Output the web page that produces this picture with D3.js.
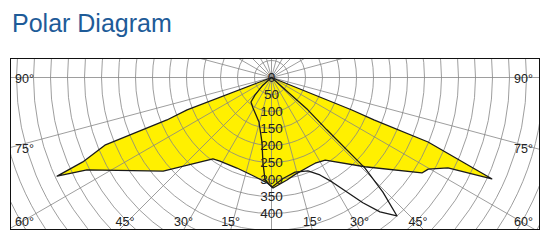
<!DOCTYPE html>
<html>
<head>
<meta charset="utf-8">
<script src="https://cdn.jsdelivr.net/npm/d3@7"></script>
<style>
  body { margin: 0; background: #fff; }
  text { font-family: "Liberation Sans", Arial, sans-serif; }
</style>
</head>
<body>
<div id="chart"></div>
<script>
// polar data: angle in degrees from nadir (negative = left), value in cd
const fillAngles = [-90, -69.0, -67.9, -67.9, -65.9, -65.3, -63.4, -49.2, -35.7, -31.7, -20.9, -10.6, -2.4, 0.8, 8.6, 14, 23.5, 27, 33, 46.3, 57.6, 59.7, 62.9, 65.3, 67.6, 67.5, 68, 90]
const fillValues = [0, 266, 332, 529, 608, 694, 607, 421, 295, 289, 285, 294, 310, 325, 305, 293, 284, 283, 290, 380, 524, 534, 583, 713, 498, 326, 255, 0]

const lineAngles = [-48.6, -48.6, -43.3, -39.9, -31.2, -15.7, -8.4, -5.7, -3.6, 0.3, 6.5, 14, 21.3, 26.4, 30.1, 36.1, 38.9, 42.2, 44.2, 45.9, 46.6, 48.3, 48]
const lineValues = [0, 34, 71, 94, 105, 136, 192, 253, 302, 322, 299, 287, 295, 320, 355, 456, 508, 549, 470, 382, 224, 143, 0]

const ringLabels = [0, 50, 100, 150, 200, 250, 300, 350, 400]
const angleLabels = [15, 30, 45, 60, 75, 90]

let width = 554, height = 240
let box = {left: 10, top: 58, right: 540, bottom: 230}
let cx = 271.5, cy = 77.5

let svg = d3.select("#chart").append("svg")
    .attr("width", width)
    .attr("height", height)

svg.append("text")
    .attr("x", 12)
    .attr("y", 32)
    .attr("fill", "#1e5b98")
    .attr("font-size", 25)
    .text("Polar Diagram")

let r = d3.scaleLinear().domain([0, 50]).range([0, 17])
let a = d3.scaleLinear().domain([0, 180]).range([Math.PI, 0])

svg.append("clipPath").attr("id", "clip")
    .append("rect")
    .attr("x", box.left).attr("y", box.top)
    .attr("width", box.right - box.left).attr("height", box.bottom - box.top)

let g = svg.append("g").attr("clip-path", "url(#clip)")
let plot = g.append("g").attr("transform", `translate(${cx},${cy})`)

let radial = d3.lineRadial()
    .angle(d => a(d[0]))
    .radius(d => r(d[1]))

let fillData = d3.zip(fillAngles, fillValues)
let lineData = d3.zip(lineAngles, lineValues)

plot.append("path")
    .attr("d", radial(fillData) + "Z")
    .attr("fill", "#fff000")

// grid
plot.append("g")
    .selectAll("circle")
    .data(d3.range(50, 1000, 50))
    .join("circle")
    .attr("r", d => r(d))
    .attr("fill", "none")
    .attr("stroke", "#858585")
    .attr("stroke-width", 0.8)

plot.append("g")
    .selectAll("line")
    .data(d3.range(0, 360, 15))
    .join("line")
    .attr("x2", d => Math.sin(a(d)) * r(1000))
    .attr("y2", d => -Math.cos(a(d)) * r(1000))
    .attr("stroke", "#858585")
    .attr("stroke-width", 0.8)

plot.append("path")
    .attr("d", radial(fillData) + "Z")
    .attr("fill", "none")
    .attr("stroke", "#1a1a1a")
    .attr("stroke-width", 1.3)
    .attr("stroke-linejoin", "round")

plot.append("path")
    .attr("d", radial(lineData))
    .attr("fill", "none")
    .attr("stroke", "#1a1a1a")
    .attr("stroke-width", 1.3)
    .attr("stroke-linejoin", "round")

plot.append("g")
    .selectAll("text")
    .data(ringLabels)
    .join("text")
    .attr("x", 0)
    .attr("y", d => r(d))
    .attr("dy", "0.36em")
    .attr("text-anchor", "middle")
    .attr("font-size", 13.5)
    .attr("fill", "#222")
    .text(d => d)

svg.append("rect")
    .attr("x", box.left + 0.5).attr("y", box.top + 0.5)
    .attr("width", box.right - box.left - 1).attr("height", box.bottom - box.top - 1)
    .attr("fill", "none")
    .attr("stroke", "#111")

// angle labels, placed where each spoke leaves the box
let labels = []
for (let d of angleLabels) {
    for (let s of [-1, 1]) {
        let t = d * Math.PI / 180
        let xb = cx + s * (box.bottom - cy) * Math.tan(t)
        let lab = {text: d + "°"}
        if (d < 60) {
            lab.x = xb - s * (d == 45 ? 6 : 0)
            lab.y = box.bottom - 4
            lab.anchor = "middle"
        } else {
            let yb = cy + (cx - box.left) / Math.tan(t)
            lab.x = s < 0 ? box.left + 5 : box.right - 7
            lab.y = Math.min(yb + 5, box.bottom - 4)
            lab.anchor = s < 0 ? "start" : "end"
        }
        labels.push(lab)
    }
}

svg.append("g")
    .selectAll("text")
    .data(labels)
    .join("text")
    .attr("x", d => d.x)
    .attr("y", d => d.y)
    .attr("text-anchor", d => d.anchor)
    .attr("font-size", 12.5)
    .attr("fill", "#222")
    .text(d => d.text)
</script>
</body>
</html>
